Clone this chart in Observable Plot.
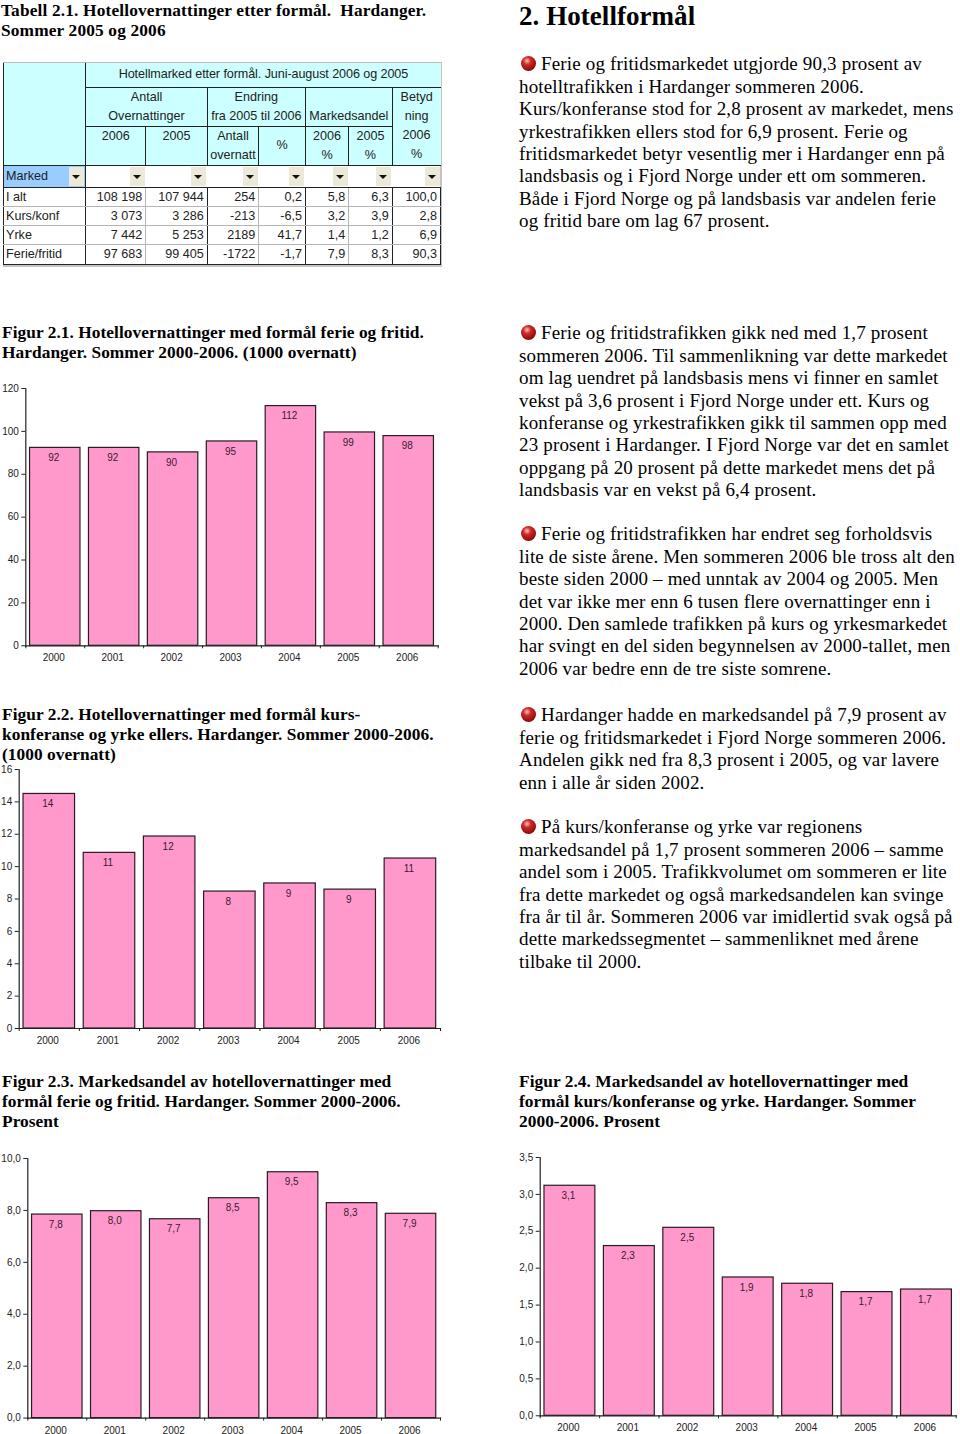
<!DOCTYPE html>
<html lang="no">
<head>
<meta charset="utf-8">
<script src="https://cdn.jsdelivr.net/npm/d3@7"></script>
<script src="https://cdn.jsdelivr.net/npm/@observablehq/plot@0.6"></script>
<style>
html,body{margin:0;padding:0;background:#fff;}
#page{position:relative;width:960px;height:1434px;overflow:hidden;font-family:"Liberation Serif",serif;color:#000;}
.h{position:absolute;font-weight:bold;font-size:17.33px;line-height:20px;white-space:pre;letter-spacing:0.05px;}
.p{position:absolute;left:519px;font-size:19px;line-height:22.4px;white-space:pre;letter-spacing:0.16px;}
.ball{position:absolute;left:2px;top:3px;width:15px;height:15px;border-radius:50%;background:radial-gradient(circle at 40% 32%,#f6c4bc 0,#d02a28 28%,#940c10 68%,#4a0508 100%);}
.chart{position:absolute;}
#tbl{position:absolute;left:3px;top:62px;width:437px;border-top:1px solid #bbb;border-right:2px solid #c4c4c4;border-bottom:2px solid #c4c4c4;}
#tbl table{border-collapse:collapse;table-layout:fixed;width:437px;font-family:"Liberation Sans",sans-serif;font-size:12.6px;color:#222;}
#tbl td{padding:0;overflow:hidden;white-space:nowrap;position:relative;line-height:19px;}
td.hd{background:#ccffff;text-align:center;}
td.num{text-align:right;padding-right:3px !important;box-sizing:border-box;line-height:17px !important;}
td.lbl{text-align:left;padding-left:2px !important;line-height:17px !important;}
.btn{position:absolute;right:1px;top:1px;width:15px;height:19px;background:#ece9d8;}
.btn:after{content:"";position:absolute;left:3px;top:8px;border-left:4px solid transparent;border-right:4px solid transparent;border-top:4px solid #111;}
</style>
</head>
<body>
<div id="page"></div>
<script>
const years = ["2000","2001","2002","2003","2004","2005","2006"];

const guestNights = [92.3,92.3,90.2,95.3,111.8,99.5,97.8];
const guestNightsLabels = ["92","92","90","95","112","99","98"];
const guestNightsTicks = [0,20,40,60,80,100,120];

const courseNights = [14.49,10.85,11.86,8.46,8.96,8.58,10.5];
const courseNightsLabels = ["14","11","12","8","9","9","11"];
const courseNightsTicks = [0,2,4,6,8,10,12,14,16];

const leisureShare = [7.84,7.97,7.66,8.47,9.47,8.28,7.87];
const leisureShareLabels = ["7,8","8,0","7,7","8,5","9,5","8,3","7,9"];
const leisureShareTicks = [0,2,4,6,8,10];

const courseShare = [3.117,2.30,2.547,1.874,1.789,1.676,1.711];
const courseShareLabels = ["3,1","2,3","2,5","1,9","1,8","1,7","1,7"];
const courseShareTicks = [0,0.5,1,1.5,2,2.5,3,3.5];

const tableTitle = "Hotellmarked etter formål. Juni-august 2006 og 2005";
const tableRows = [
  ["I alt","108 198","107 944","254","0,2","5,8","6,3","100,0"],
  ["Kurs/konf","3 073","3 286","-213","-6,5","3,2","3,9","2,8"],
  ["Yrke","7 442","5 253","2189","41,7","1,4","1,2","6,9"],
  ["Ferie/fritid","97 683","99 405","-1722","-1,7","7,9","8,3","90,3"]
];

const headings = [
  {x:1,y:0.5,spacing:"0.15px",lines:["Tabell 2.1. Hotellovernattinger etter formål.  Hardanger.","Sommer 2005 og 2006"]},
  {x:2,y:322.5,lines:["Figur 2.1. Hotellovernattinger med formål ferie og fritid.","Hardanger. Sommer 2000-2006. (1000 overnatt)"]},
  {x:2,y:705,lines:["Figur 2.2. Hotellovernattinger med formål kurs-","konferanse og yrke ellers. Hardanger. Sommer 2000-2006.","(1000 overnatt)"]},
  {x:2,y:1071.5,lines:["Figur 2.3. Markedsandel av hotellovernattinger med","formål ferie og fritid. Hardanger. Sommer 2000-2006.","Prosent"]},
  {x:519,y:1071.5,lines:["Figur 2.4. Markedsandel av hotellovernattinger med","formål kurs/konferanse og yrke. Hardanger. Sommer","2000-2006. Prosent"]}
];

const paragraphs = [
  {y:53.4,lines:["Ferie og fritidsmarkedet utgjorde 90,3 prosent av","hotelltrafikken i Hardanger sommeren 2006.","Kurs/konferanse stod for 2,8 prosent av markedet, mens","yrkestrafikken ellers stod for 6,9 prosent. Ferie og","fritidsmarkedet betyr vesentlig mer i Hardanger enn på","landsbasis og i Fjord Norge under ett om sommeren.","Både i Fjord Norge og på landsbasis var andelen ferie","og fritid bare om lag 67 prosent."]},
  {y:322.4,lines:["Ferie og fritidstrafikken gikk ned med 1,7 prosent","sommeren 2006. Til sammenlikning var dette markedet","om lag uendret på landsbasis mens vi finner en samlet","vekst på 3,6 prosent i Fjord Norge under ett. Kurs og","konferanse og yrkestrafikken gikk til sammen opp med","23 prosent i Hardanger. I Fjord Norge var det en samlet","oppgang på 20 prosent på dette markedet mens det på","landsbasis var en vekst på 6,4 prosent."]},
  {y:523.4,lines:["Ferie og fritidstrafikken har endret seg forholdsvis","lite de siste årene. Men sommeren 2006 ble tross alt den","beste siden 2000 – med unntak av 2004 og 2005. Men","det var ikke mer enn 6 tusen flere overnattinger enn i","2000. Den samlede trafikken på kurs og yrkesmarkedet","har svingt en del siden begynnelsen av 2000-tallet, men","2006 var bedre enn de tre siste somrene."]},
  {y:704.4,lines:["Hardanger hadde en markedsandel på 7,9 prosent av","ferie og fritidsmarkedet i Fjord Norge sommeren 2006.","Andelen gikk ned fra 8,3 prosent i 2005, og var lavere","enn i alle år siden 2002."]},
  {y:816.4,lines:["På kurs/konferanse og yrke var regionens","markedsandel på 1,7 prosent sommeren 2006 – samme","andel som i 2005. Trafikkvolumet om sommeren er lite","fra dette markedet og også markedsandelen kan svinge","fra år til år. Sommeren 2006 var imidlertid svak også på","dette markedssegmentet – sammenliknet med årene","tilbake til 2000."]}
];

const page = document.getElementById("page");

const big = document.createElement("div");
big.className = "h";
big.style.cssText = "left:519px;top:0;font-size:27px;line-height:33px;";
big.textContent = "2. Hotellformål";
page.appendChild(big);

for (const h of headings) {
  const d = document.createElement("div");
  d.className = "h";
  d.style.left = h.x + "px";
  d.style.top = h.y + "px";
  if (h.spacing) d.style.letterSpacing = h.spacing;
  d.textContent = h.lines.join("\n");
  page.appendChild(d);
}
for (const p of paragraphs) {
  const d = document.createElement("div");
  d.className = "p";
  d.style.top = p.y + "px";
  const ball = document.createElement("span");
  ball.className = "ball";
  d.appendChild(ball);
  const first = document.createElement("span");
  first.style.marginLeft = "22px";
  first.textContent = p.lines[0];
  d.appendChild(first);
  d.appendChild(document.createTextNode("\n" + p.lines.slice(1).join("\n")));
  page.appendChild(d);
}

// Table
function buildTable() {
  const wrap = document.createElement("div");
  wrap.id = "tbl";
  const widths = [82.3,60,61.4,51.6,46.7,43.3,43.4,48.3];
  const black = "1.4px solid #222", gray = "1px solid #b5b5b5";
  const t = document.createElement("table");
  const cg = document.createElement("colgroup");
  widths.forEach(w => { const c = document.createElement("col"); c.style.width = w + "px"; cg.appendChild(c); });
  t.appendChild(cg);
  function row(h) { const r = t.insertRow(); r.style.height = h + "px"; return r; }
  function cell(r, html, cls, opts = {}) {
    const c = r.insertCell();
    c.innerHTML = html;
    c.className = cls;
    if (opts.colspan) c.colSpan = opts.colspan;
    if (opts.rowspan) c.rowSpan = opts.rowspan;
    if (opts.css) c.style.cssText = opts.css;
    return c;
  }
  const r0 = row(24);
  cell(r0, "", "hd", {rowspan:3, css:`border-left:${black};border-right:${black};border-bottom:${black};`});
  cell(r0, tableTitle, "hd", {colspan:7, css:`border-bottom:${black};letter-spacing:-0.09px;`});
  const r1 = row(38);
  const bb = `border-bottom:${black};border-right:${black};`;
  cell(r1, "Antall<br>Overnattinger", "hd", {colspan:2, css:bb});
  cell(r1, "Endring<br>fra 2005 til 2006", "hd", {colspan:2, css:bb});
  cell(r1, "<br>Markedsandel", "hd", {colspan:2, css:bb});
  cell(r1, "Betyd<br>ning", "hd");
  const r2 = row(38.6);
  const vb = `border-bottom:${black};border-right:${black};`;
  const top = "vertical-align:top;";
  cell(r2, "2006", "hd", {css:vb + top});
  cell(r2, "2005", "hd", {css:vb + top});
  cell(r2, "Antall<br>overnatt", "hd", {css:vb + top});
  cell(r2, "%", "hd", {css:vb});
  cell(r2, "2006<br>%", "hd", {css:vb + top});
  cell(r2, "2005<br>%", "hd", {css:vb + top});
  cell(r2, "2006<br>%", "hd", {css:`border-bottom:${black};` + top});
  const r3 = row(22.7);
  const btn = '<div class="btn"></div>';
  cell(r3, "Marked" + btn, "lbl", {css:`background:#99ccff;border-left:${black};border-right:${black};border-bottom:${black};`});
  for (let i = 0; i < 7; i++) cell(r3, btn, "", {css:`border-bottom:${black};`});
  const heights = [19.3,18.7,19.3,19.4];
  const strong = new Set([2,4,6]);
  tableRows.forEach((vals, ri) => {
    const r = row(heights[ri]);
    const last = ri === tableRows.length - 1;
    const bot = last ? `border-bottom:${black};` : `border-bottom:${gray};`;
    vals.forEach((v, ci) => {
      if (ci === 0) cell(r, v, "lbl", {css:`border-left:${black};border-right:${black};` + bot});
      else cell(r, v, "num", {css:`border-right:${ci === 7 ? black : (strong.has(ci) ? black : gray)};` + bot});
    });
  });
  wrap.appendChild(t);
  page.appendChild(wrap);
}
buildTable();

// Charts
function barChart({values, labels, ticks, tickFormat, maxY, left, right, baseline, top, svgLeft}) {
  const marginTop = 8, marginBottom = 20, marginRight = 6;
  const plotH = baseline - top;
  const width = right - svgLeft + marginRight;
  const data = years.map((year, i) => ({year, value: values[i], label: labels[i]}));
  const step = (right - left) / years.length;
  const tickMark = (xs, dx) => Plot.ruleX(xs, {x: d => d, y1: 0, y2: 0, insetBottom: -3, dx, stroke: "#222", strokeWidth: 1});
  const plot = Plot.plot({
    width,
    height: plotH + marginTop + marginBottom,
    marginLeft: left - svgLeft,
    marginRight,
    marginTop,
    marginBottom,
    style: {background: "transparent", fontFamily: '"Liberation Sans", Arial, sans-serif', fontSize: "10px", color: "#222", overflow: "visible"},
    x: {domain: years, type: "band", paddingInner: 0.144, paddingOuter: 0.072, round: false, axis: null},
    y: {domain: [0, maxY], axis: null},
    marks: [
      Plot.barY(data, {x: "year", y: "value", fill: "#ff99cc", stroke: "#2a1a22", strokeWidth: 1.2}),
      Plot.frame({anchor: "left", stroke: "#222", strokeWidth: 1.2}),
      Plot.frame({anchor: "bottom", stroke: "#222", strokeWidth: 1.2}),
      tickMark(years, step / 2),
      tickMark([years[0]], -step / 2),
      Plot.axisY({ticks, tickFormat, tickSize: 4, tickPadding: 3, stroke: "#222", fill: "#222", label: null, anchor: "left"}),
      Plot.axisX({tickSize: 0, tickPadding: 8.5, dx: -1.5, fill: "#222", label: null, anchor: "bottom"}),
      Plot.text(data, {x: "year", y: "value", text: "label", dx: -1.5, dy: 10, fill: "#3a1a30", fontSize: 10})
    ]
  });
  plot.classList.add("chart");
  plot.style.left = svgLeft + "px";
  plot.style.top = (top - marginTop) + "px";
  page.appendChild(plot);
}
const comma1 = d => d3.format(".1f")(d).replace(".", ",");
barChart({values: guestNights, labels: guestNightsLabels, ticks: guestNightsTicks, tickFormat: d => String(d), maxY: 120, left: 25.3, right: 437.7, baseline: 645, top: 387.7, svgLeft: 0});
barChart({values: courseNights, labels: courseNightsLabels, ticks: courseNightsTicks, tickFormat: d => String(d), maxY: 16, left: 18.7, right: 440, baseline: 1028.3, top: 769.3, svgLeft: 0});
barChart({values: leisureShare, labels: leisureShareLabels, ticks: leisureShareTicks, tickFormat: comma1, maxY: 10, left: 27.3, right: 440, baseline: 1417.3, top: 1157.7, svgLeft: 0});
barChart({values: courseShare, labels: courseShareLabels, ticks: courseShareTicks, tickFormat: comma1, maxY: 3.5, left: 539.7, right: 955.7, baseline: 1415, top: 1156.7, svgLeft: 510});
</script>
</body>
</html>
